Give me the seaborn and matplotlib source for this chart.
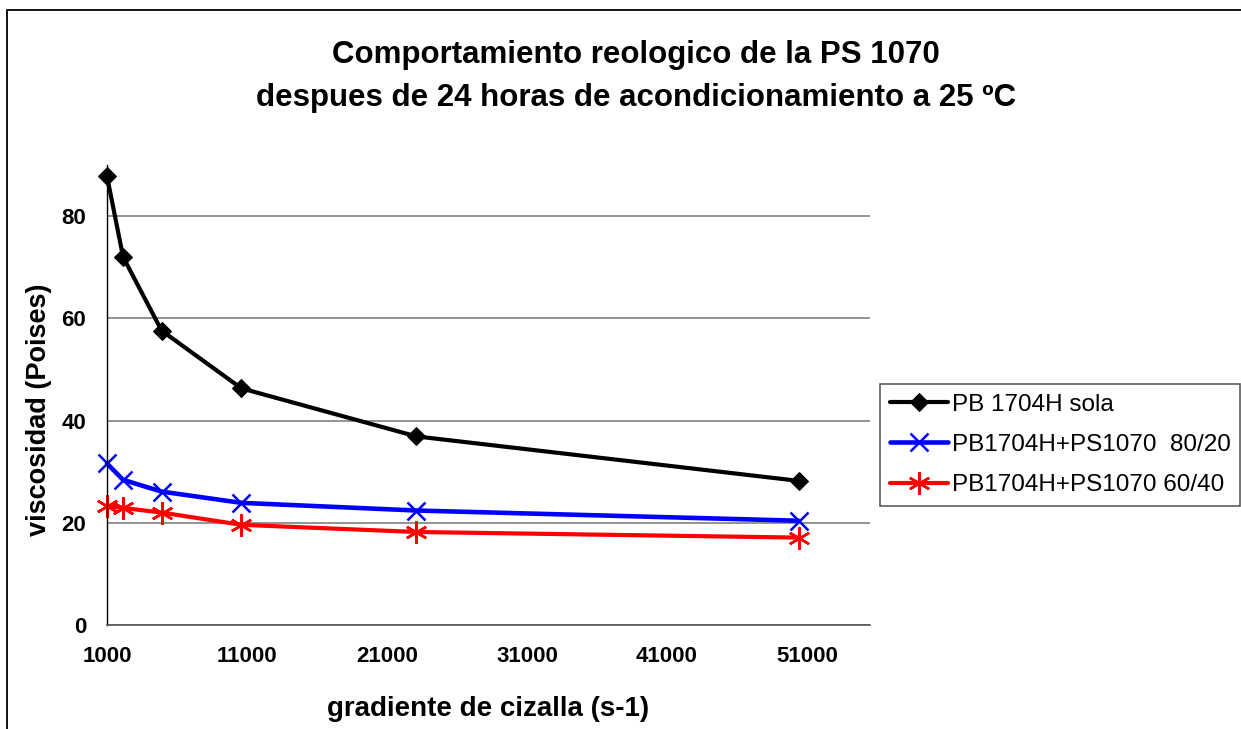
import seaborn as sns
import matplotlib.pyplot as plt
from matplotlib.patches import Rectangle

sns.set_style("white")
plt.rcParams["font.family"] = ["Liberation Sans", "DejaVu Sans"]
plt.rcParams["text.color"] = "black"
plt.rcParams["axes.labelcolor"] = "black"
plt.rcParams["xtick.color"] = "black"
plt.rcParams["ytick.color"] = "black"

# datos
gradiente = [1000, 2150, 4900, 10600, 23100, 50400]
pb_sola = [87.8, 72.0, 57.6, 46.3, 36.9, 28.2]
pb_80_20 = [31.6, 28.4, 26.1, 23.9, 22.4, 20.4]
pb_60_40 = [23.3, 22.9, 22.0, 19.6, 18.2, 17.1]
etiquetas = ["PB 1704H sola", "PB1704H+PS1070  80/20", "PB1704H+PS1070 60/40"]
x_ticks = [1000, 11000, 21000, 31000, 41000, 51000]
y_ticks = [0, 20, 40, 60, 80]

fig = plt.figure(figsize=(12.41, 7.29), dpi=100)
ax = fig.add_axes([107 / 1241, 1 - 625 / 729, (870 - 107) / 1241, (625 - 165) / 729])

estilos = [
    dict(color="black", marker="D", markersize=9.5, markeredgecolor="black", linewidth=3),
    dict(color="blue", marker="x", markersize=13, markeredgewidth=1.8,
         markeredgecolor="blue", linewidth=3.3),
    dict(color="red", marker=(6, 2, 0), markersize=16, markeredgewidth=1.8,
         markeredgecolor="red", linewidth=3),
]
for serie, etiqueta, est in zip([pb_sola, pb_80_20, pb_60_40], etiquetas, estilos):
    sns.lineplot(x=gradiente, y=serie, ax=ax, label=etiqueta, clip_on=False, **est)

ax.set_xlim(1000, 55500)
ax.set_ylim(0, 90)
ax.set_xticks(x_ticks)
ax.set_yticks(y_ticks)
ax.set_xticklabels([str(t) for t in x_ticks], fontsize=16, fontweight="bold")
ax.set_yticklabels([str(t) for t in y_ticks], fontsize=16, fontweight="bold")
ax.tick_params(axis="both", direction="out", length=6, width=1, color="black", pad=9)
ax.yaxis.grid(True, color="#808080", linewidth=1.2)
ax.set_axisbelow(True)
for s in ["top", "right"]:
    ax.spines[s].set_visible(False)
ax.spines["left"].set_color("black")
ax.spines["bottom"].set_color("#555555")
ax.spines["left"].set_linewidth(1)
ax.spines["bottom"].set_linewidth(1.2)

ax.set_xlabel("gradiente de cizalla (s-1)", fontsize=20, fontweight="bold", labelpad=21)
ax.set_ylabel("viscosidad (Poises)", fontsize=19.5, fontweight="bold")
ax.yaxis.set_label_coords(-0.072, 0.467)

fig.text(636 / 1241, 1 - 55 / 729,
         "Comportamiento reologico de la PS 1070", ha="center", va="center",
         fontsize=22.5, fontweight="bold")
fig.text(636 / 1241, 1 - 98 / 729,
         "despues de 24 horas de acondicionamiento a 25 ºC", ha="center", va="center",
         fontsize=22.5, fontweight="bold")

leg = ax.legend(loc="upper left", bbox_to_anchor=(880 / 1241, 1 - 384 / 729),
                bbox_transform=fig.transFigure, fontsize=17.5, frameon=True,
                fancybox=False, edgecolor="#333333", handlelength=2.4,
                handletextpad=0.15, labelspacing=0.75, borderpad=0.4,
                borderaxespad=0)
leg.get_frame().set_linewidth(1.2)

# marco exterior del grafico
fig.add_artist(Rectangle((7 / 1241, -0.1), 1.2, 1.1 - 10 / 729, transform=fig.transFigure,
                         fill=False, edgecolor="black", linewidth=1.3, clip_on=False))

plt.savefig("out.png", dpi=100)
